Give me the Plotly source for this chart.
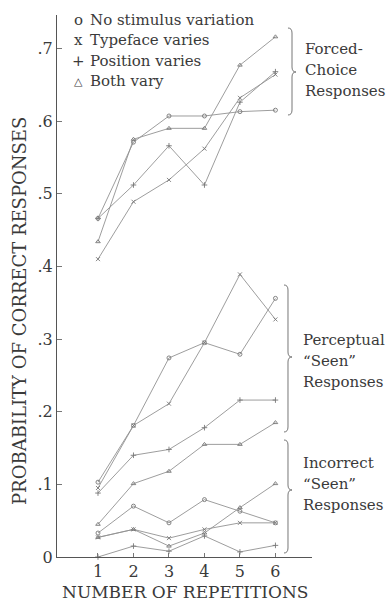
import plotly.graph_objects as go

# ---------------- data ----------------
repetitions = [1, 2, 3, 4, 5, 6]

# Forced-choice responses
forced_none = [0.466, 0.571, 0.607, 0.607, 0.613, 0.615]
forced_typeface = [0.410, 0.489, 0.519, 0.562, 0.632, 0.664]
forced_position = [0.466, 0.512, 0.566, 0.512, 0.626, 0.668]
forced_both = [0.434, 0.575, 0.590, 0.590, 0.677, 0.716]

# Perceptual "Seen" responses
percept_none = [0.103, 0.181, 0.274, 0.295, 0.279, 0.356]
percept_typeface = [0.095, 0.181, 0.211, 0.295, 0.389, 0.327]
percept_position = [0.088, 0.140, 0.148, 0.178, 0.216, 0.216]
percept_both = [0.045, 0.101, 0.118, 0.155, 0.155, 0.185]

# Incorrect "Seen" responses
incorrect_none = [0.033, 0.070, 0.047, 0.079, 0.063, 0.047]
incorrect_typeface = [0.027, 0.038, 0.026, 0.038, 0.047, 0.047]
incorrect_position = [0.000, 0.015, 0.008, 0.029, 0.007, 0.016]
incorrect_both = [0.027, 0.038, 0.015, 0.033, 0.068, 0.101]

y_tick_values = [0, 0.1, 0.2, 0.3, 0.4, 0.5, 0.6, 0.7]
y_tick_labels = ["0", ".1", ".2", ".3", ".4", ".5", ".6", ".7"]

legend_symbols = ["o", "x", "+", "\u25b3"]
legend_labels = ["No stimulus variation", "Typeface varies", "Position varies", "Both vary"]

# ---------------- style ----------------
W, H = 391, 606
L, R, T, B = 57, 79, 15, 49
PW, PH = W - L - R, H - T - B
FONT = "DejaVu Serif"
INK = "#3a3a3a"
LINE = "#929292"

def px(x):
    return (x - L) / PW

def py(y):
    return (H - B - y) / PH

series = [
    (forced_none, "circle-open"), (forced_typeface, "x-thin-open"),
    (forced_position, "cross-thin-open"), (forced_both, "triangle-up-open"),
    (percept_none, "circle-open"), (percept_typeface, "x-thin-open"),
    (percept_position, "cross-thin-open"), (percept_both, "triangle-up-open"),
    (incorrect_none, "circle-open"), (incorrect_typeface, "x-thin-open"),
    (incorrect_position, "cross-thin-open"), (incorrect_both, "triangle-up-open"),
]

fig = go.Figure()
for vals, sym in series:
    fig.add_trace(go.Scatter(
        x=repetitions, y=vals, mode="lines+markers",
        line=dict(color=LINE, width=0.9),
        marker=dict(symbol=sym, size=4, color="#777", line=dict(width=0.9, color="#777")),
        showlegend=False, hoverinfo="skip", cliponaxis=False,
    ))

fig.update_layout(
    width=W, height=H,
    margin=dict(l=L, r=R, t=T, b=B, pad=0),
    paper_bgcolor="white", plot_bgcolor="white",
    font=dict(family=FONT, size=15, color=INK),
)
fig.update_xaxes(
    range=[-0.155, 7.03], tickvals=repetitions, ticktext=[str(r) for r in repetitions],
    showgrid=False, zeroline=False, showline=True, linecolor="#555", linewidth=1,
    ticks="inside", ticklen=4, tickcolor="#777", tickfont=dict(size=16, family=FONT, color=INK),
)
fig.update_yaxes(
    range=[0, 0.746], tickvals=y_tick_values, ticktext=y_tick_labels,
    showgrid=False, zeroline=False, showline=True, linecolor="#555", linewidth=1,
    ticks="inside", ticklen=5, tickcolor="#777", tickfont=dict(size=16, family=FONT, color=INK),
)

ann = []
# axis titles
ann.append(dict(x=px(185), y=py(592), xref="paper", yref="paper", text="NUMBER OF REPETITIONS",
                showarrow=False, xanchor="center", yanchor="middle", font=dict(size=17)))
ann.append(dict(x=px(20), y=py(311), xref="paper", yref="paper", text="PROBABILITY OF CORRECT RESPONSES",
                showarrow=False, xanchor="center", yanchor="middle", textangle=-90, font=dict(size=18)))
# legend
for i, (s, lab) in enumerate(zip(legend_symbols, legend_labels)):
    yy = 20 + i * 20.5
    ann.append(dict(x=px(78), y=py(yy), xref="paper", yref="paper", text=s, showarrow=False,
                    xanchor="center", yanchor="middle", font=dict(size=15 if s != "\u25b3" else 11)))
    ann.append(dict(x=px(88), y=py(yy), xref="paper", yref="paper", text=lab, showarrow=False,
                    xanchor="left", yanchor="middle", font=dict(size=15)))

# group labels
groups = [
    (["Forced-", "Choice", "Responses"], 303, 49, 292, 28, 115, 72),
    (["Perceptual", "\u201cSeen\u201d", "Responses"], 301, 340, 288, 285, 432, 357),
    (["Incorrect", "\u201cSeen\u201d", "Responses"], 301, 463, 288, 440, 553, 490),
]
shapes = []
for lines, tx, ty, bx, btop, bbot, bmid in groups:
    for j, t in enumerate(lines):
        ann.append(dict(x=px(tx), y=py(ty + j * 21), xref="paper", yref="paper", text=t,
                        showarrow=False, xanchor="left", yanchor="middle", font=dict(size=15)))
    pts = dict(
        a=(px(bx - 4), py(btop)), b=(px(bx), py(btop)), c=(px(bx), py(btop + 5)),
        d=(px(bx), py(bmid - 5)), e=(px(bx), py(bmid)), f=(px(bx + 4), py(bmid)),
        g=(px(bx), py(bmid + 5)), h=(px(bx), py(bbot - 5)), i=(px(bx), py(bbot)), k=(px(bx - 4), py(bbot)),
    )
    p = lambda k: f"{pts[k][0]:.5f},{pts[k][1]:.5f}"
    path = (f"M {p('a')} Q {p('b')} {p('c')} L {p('d')} Q {p('e')} {p('f')} "
            f"Q {p('e')} {p('g')} L {p('h')} Q {p('i')} {p('k')}")
    shapes.append(dict(type="path", path=path, xref="paper", yref="paper",
                       line=dict(color="#777", width=1)))

fig.update_layout(annotations=ann, shapes=shapes)
fig.write_html(
    "out.html",
    config={"displayModeBar": False, "staticPlot": True},
    post_script="document.body.style.margin='0';document.body.style.overflow='hidden';",
)
